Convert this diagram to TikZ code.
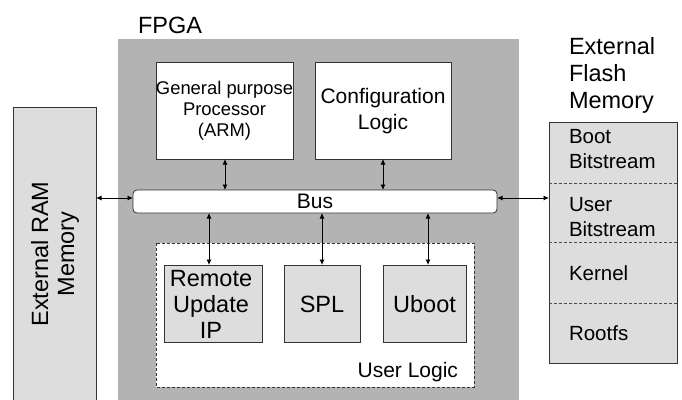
\documentclass[tikz,border=0pt]{standalone}
\usepackage{fontspec}
\setmainfont{Liberation Sans}
\usetikzlibrary{arrows.meta}
\definecolor{fpgagray}{HTML}{B3B3B3}
\definecolor{lightbox}{HTML}{DDDDDD}
\begin{document}
\begin{tikzpicture}[x=1pt,y=-1pt,
  every node/.style={inner sep=0pt,outer sep=0pt},
  bigfont/.style={font=\fontsize{23.5}{26}\selectfont},
  midfont/.style={font=\fontsize{21}{26}\selectfont},
  flashfont/.style={font=\fontsize{20.5}{25}\selectfont},
  whitebox/.style={draw=black!80,fill=white,line width=0.8pt},
  graybox/.style={draw=black!80,fill=lightbox,line width=0.8pt},
  conn/.style={line width=0.8pt,{Latex[length=5.5pt,width=5pt]}-{Latex[length=5.5pt,width=5pt]}}
]
\useasboundingbox (0,0) rectangle (682,399);
% External RAM
\fill[lightbox] (13,107) rectangle (96,402);
\draw[black!80,line width=0.8pt] (13,402) -- (13,107) -- (96,107) -- (96,402);
\node (ram) [bigfont,rotate=90,align=center] at (55,254) {External RAM\\Memory};
\coordinate (ramR) at (96,198);
% FPGA
\fill[fpgagray] (118,39) rectangle (519,402);
\node (fpgalbl) [bigfont,anchor=base west] at (138,33) {FPGA};
% GPP
\draw[whitebox] (156,62) rectangle (293,159);
\node (gpp) [font=\fontsize{18.4}{21}\selectfont,align=center] at (224.5,111) {General purpose\\Processor\\(ARM)};
\coordinate (gppB) at (225,159);
% Config
\draw[whitebox] (315,62) rectangle (451,159);
\node (cfg) [midfont,align=center] at (383,111) {Configuration\\Logic};
\coordinate (cfgB) at (383,159);
% Bus
\draw[whitebox,rounded corners=4pt] (133,190) rectangle (497,213);
\node (bus) [font=\fontsize{21}{24}\selectfont] at (315,201.5) {Bus};
% User logic
\draw[fill=white,draw=black!80,line width=0.8pt,dash pattern=on 3pt off 2pt] (156,243) rectangle (474,387);
\node (ul) [font=\fontsize{21}{24}\selectfont,anchor=east] at (458,372) {User Logic};
\draw[graybox] (164,265) rectangle (262,342);
\node (rui) [bigfont,align=center] at (211,304) {Remote\\Update\\IP};
\draw[graybox] (284,265) rectangle (360,342);
\node (spl) [bigfont] at (322,304) {SPL};
\draw[graybox] (383,265) rectangle (466,342);
\node (uboot) [bigfont] at (424.5,304) {Uboot};
% Flash
\draw[graybox] (549,122) rectangle (677,363);
\foreach \yy in {183,242,303} \draw[black!70,line width=0.6pt,dash pattern=on 3pt off 2pt] (549,\yy) -- (677,\yy);
\node (flashlbl) [align=left,anchor=north west,font=\fontsize{23.5}{27}\selectfont] at (569,37) {External\\Flash\\Memory};
\node (boot) [flashfont,align=left,anchor=west] at (569,149.5) {Boot\\Bitstream};
\node (userbs) [flashfont,align=left,anchor=west] at (569,217.5) {User\\Bitstream};
\node (kernel) [flashfont,anchor=west] at (569,273) {Kernel};
\node (rootfs) [flashfont,anchor=west] at (569,333) {Rootfs};
\coordinate (flashL) at (549,198);
% Connectors
\coordinate (busL) at (133,198);
\coordinate (busR) at (497,198);
\draw[conn] (ramR) -- (busL);
\draw[conn] (busR) -- (flashL);
\draw[conn] (gppB) -- (225,190);
\draw[conn] (cfgB) -- (383,190);
\draw[conn] (209,213) -- (209,265);
\draw[conn] (322,213) -- (322,265);
\draw[conn] (428,213) -- (428,265);
\end{tikzpicture}
\end{document}
